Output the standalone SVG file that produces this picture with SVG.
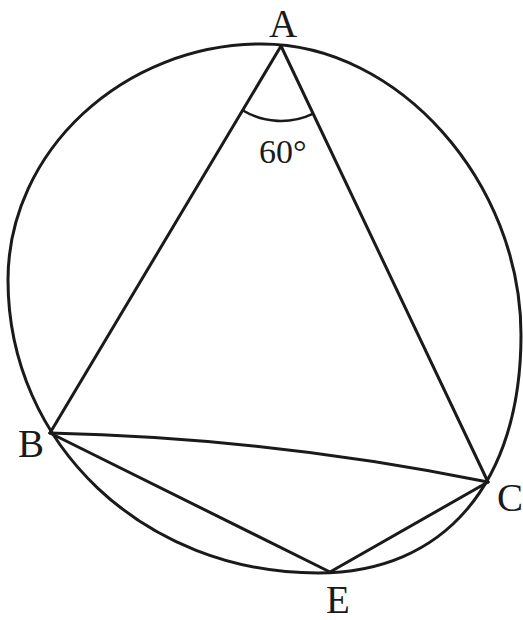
<svg xmlns="http://www.w3.org/2000/svg" width="523" height="620" viewBox="0 0 523 620">
<style>
.ln{fill:none;stroke:#1a1a1a;stroke-width:3;stroke-linecap:round;stroke-linejoin:round}
.lbl{font-family:"Liberation Serif","Times New Roman",serif;font-size:39px;fill:#1a1a1a}
.ang{font-family:"Liberation Serif","Times New Roman",serif;font-size:34px;fill:#1a1a1a}
</style>
<rect width="523" height="620" fill="#ffffff"/>
<g id="circle">
<path class="ln" d="M262,44 C398.5,44 521,182.2 521,335 C521,482.6 444.5,573 318,573 C143.8,573 8,444.1 8,280 C8,151.4 123,44 262,44 Z"/>
</g>
<g id="connectors">
<line class="ln" x1="281" y1="46" x2="50" y2="433"/>
<line class="ln" x1="281" y1="46" x2="488" y2="482"/>
<path class="ln" d="M50,433 Q272,438 488,482"/>
<line class="ln" x1="50" y1="433" x2="330" y2="572"/>
<line class="ln" x1="488" y1="482" x2="330" y2="572"/>
<path class="ln" d="M243,110.5 A74,74 0 0 0 312.7,113.8" style="stroke-width:2.6"/>
</g>
<g id="A"><text class="lbl" x="283" y="37" text-anchor="middle">A</text></g>
<g id="B"><text class="lbl" x="31" y="457" text-anchor="middle">B</text></g>
<g id="C"><text class="lbl" x="510" y="511" text-anchor="middle">C</text></g>
<g id="E"><text class="lbl" x="338" y="613" text-anchor="middle">E</text></g>
<g id="angle"><text class="ang" x="259" y="163">60°</text></g>
</svg>
